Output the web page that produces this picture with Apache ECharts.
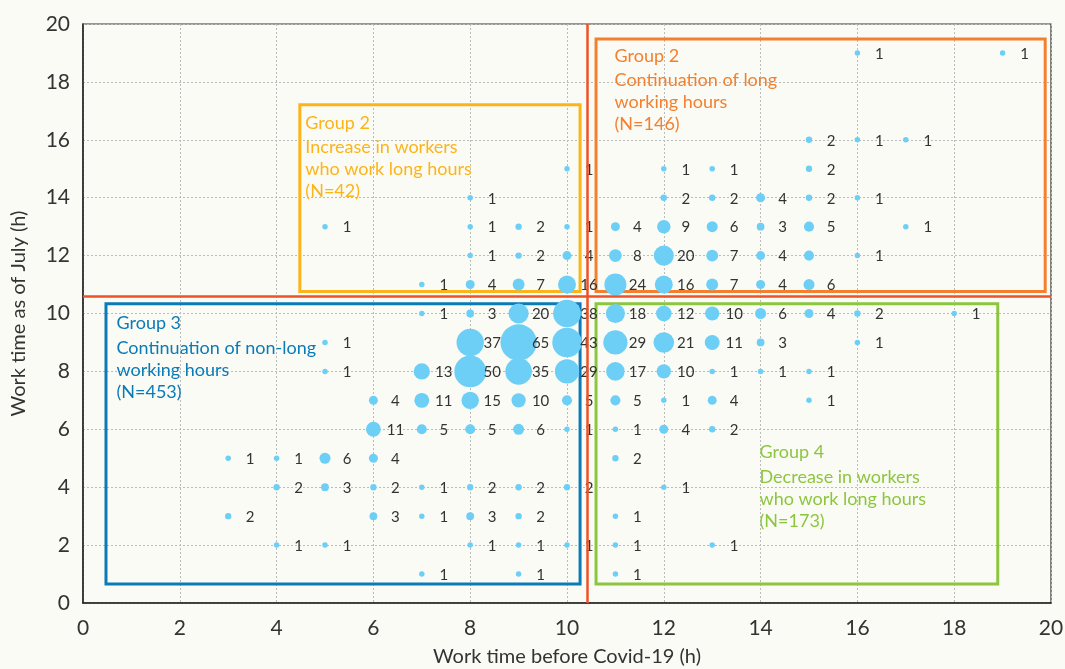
<!DOCTYPE html>
<html><head><meta charset="utf-8">
<script src="https://cdn.jsdelivr.net/npm/echarts@6/dist/echarts.min.js"></script>
<style>html,body{margin:0;padding:0;background:#fbfbf5}#c{width:1065px;height:669px}</style>
</head><body><div id="c"></div>
<script>
const xAxisName = 'Work time before Covid-19 (h)';
const yAxisName = 'Work time as of July (h)';
const axisMin = 0, axisMax = 20, axisStep = 2;

// [work time before Covid-19, work time as of July, number of workers]
const row19 = [[16,19,1],[19,19,1]];
const row16 = [[15,16,2],[16,16,1],[17,16,1]];
const row15 = [[10,15,1],[12,15,1],[13,15,1],[15,15,2]];
const row14 = [[8,14,1],[12,14,2],[13,14,2],[14,14,4],[15,14,2],[16,14,1]];
const row13 = [[5,13,1],[8,13,1],[9,13,2],[10,13,1],[11,13,4],[12,13,9],[13,13,6],[14,13,3],[15,13,5],[17,13,1]];
const row12 = [[8,12,1],[9,12,2],[10,12,4],[11,12,8],[12,12,20],[13,12,7],[14,12,4],[16,12,1]];
const row11 = [[7,11,1],[8,11,4],[9,11,7],[10,11,16],[11,11,24],[12,11,16],[13,11,7],[14,11,4],[15,11,6]];
const row10 = [[7,10,1],[8,10,3],[9,10,20],[10,10,38],[11,10,18],[12,10,12],[13,10,10],[14,10,6],[15,10,4],[16,10,2],[18,10,1]];
const row9  = [[5,9,1],[8,9,37],[9,9,65],[10,9,43],[11,9,29],[12,9,21],[13,9,11],[14,9,3],[16,9,1]];
const row8  = [[5,8,1],[7,8,13],[8,8,50],[9,8,35],[10,8,29],[11,8,17],[12,8,10],[13,8,1],[14,8,1],[15,8,1]];
const row7  = [[6,7,4],[7,7,11],[8,7,15],[9,7,10],[10,7,5],[11,7,5],[12,7,1],[13,7,4],[15,7,1]];
const row6  = [[6,6,11],[7,6,5],[8,6,5],[9,6,6],[10,6,1],[11,6,1],[12,6,4],[13,6,2]];
const row5  = [[3,5,1],[4,5,1],[5,5,6],[6,5,4],[11,5,2]];
const row4  = [[4,4,2],[5,4,3],[6,4,2],[7,4,1],[8,4,2],[9,4,2],[10,4,2],[12,4,1]];
const row3  = [[3,3,2],[6,3,3],[7,3,1],[8,3,3],[9,3,2],[11,3,1]];
const row2  = [[4,2,1],[5,2,1],[8,2,1],[9,2,1],[10,2,1],[11,2,1],[13,2,1]];
const row1  = [[7,1,1],[9,1,1],[11,1,1]];
// bubble drawn without a printed count in the original (estimated size)
const unlabeledBubbles = [[15,12,5]];

// threshold lines and group boxes (data coordinates)
const thresholdX = 10.42, thresholdY = 10.6;
const groupTitles = ['Group 2', 'Group 2', 'Group 3', 'Group 4'];
const groupTexts = [
  'Increase in workers\nwho work long hours\n(N=42)',
  'Continuation of long\nworking hours\n(N=146)',
  'Continuation of non-long\nworking hours\n(N=453)',
  'Decrease in workers\nwho work long hours\n(N=173)'
];
const groupBoxes = [
  [[4.48, 17.21], [10.27, 10.76]],
  [[10.60, 19.48], [19.88, 10.76]],
  [[0.475, 10.34], [10.27, 0.655]],
  [[10.60, 10.34], [18.9, 0.655]]
];
const groupColors = ['#fbb41a', '#f4802f', '#0a7bb8', '#8cc63f'];
const groupLabelPos = [[7, 6], [20, 5], [12, 8], [165, 137]];

const FONT = 'Lato, "Open Sans", sans-serif';
const allRows = [row19,row16,row15,row14,row13,row12,row11,row10,row9,row8,row7,row6,row5,row4,row3,row2,row1];
const points = [];
allRows.forEach(r => r.forEach(p => points.push({ value: p })));
unlabeledBubbles.forEach(p => points.push({ value: p, label: { show: false } }));

const chart = echarts.init(document.getElementById('c'), null, { renderer: 'canvas' });
chart.setOption({
  backgroundColor: '#fbfbf5',
  animation: false,
  textStyle: { fontFamily: FONT },
  grid: { left: 83, right: 14, top: 24, bottom: 66, show: true, borderColor: '#333', borderWidth: 1.2, containLabel: false, outerBoundsMode: 'none' },
  xAxis: {
    type: 'value', min: axisMin, max: axisMax, interval: axisStep,
    name: xAxisName, nameLocation: 'middle', nameGap: 44,
    nameTextStyle: { fontSize: 20, color: '#333', fontFamily: FONT },
    axisLine: { show: true, lineStyle: { color: '#222', width: 1.5 } },
    axisTick: { show: false },
    axisLabel: { fontSize: 21, color: '#333', margin: 15, fontFamily: FONT },
    splitLine: { show: true, lineStyle: { color: '#bbb', type: [2, 2], width: 1 } }
  },
  yAxis: {
    type: 'value', min: axisMin, max: axisMax, interval: axisStep,
    name: yAxisName, nameLocation: 'middle', nameGap: 54,
    nameTextStyle: { fontSize: 20, color: '#333', fontFamily: FONT },
    axisLine: { show: true, lineStyle: { color: '#222', width: 1.5 } },
    axisTick: { show: false },
    axisLabel: { fontSize: 21, color: '#333', margin: 13, fontFamily: FONT },
    splitLine: { show: true, lineStyle: { color: '#bbb', type: [2, 2], width: 1 } }
  },
  series: [
    {
      type: 'scatter',
      z: 2,
      data: [],
      silent: true,
      markArea: {
        silent: true,
        data: groupBoxes.map((b, i) => [
          {
            coord: b[0],
            itemStyle: { color: 'rgba(0,0,0,0)', borderColor: groupColors[i], borderWidth: 3 },
            label: {
              show: true, position: groupLabelPos[i],
              formatter: '{t|' + groupTitles[i] + '}\n' + groupTexts[i].split('\n').map(s => '{b|' + s + '}').join('\n'),
              rich: {
                t: { fontSize: 18, lineHeight: 27, color: groupColors[i], fontFamily: FONT },
                b: { fontSize: 18, lineHeight: 22, color: groupColors[i], fontFamily: FONT }
              }
            }
          },
          { coord: b[1] }
        ])
      },
      markLine: {
        silent: true, symbol: 'none',
        label: { show: false },
        lineStyle: { color: '#ee5229', width: 2.5, type: 'solid' },
        data: [{ xAxis: thresholdX }, { yAxis: thresholdY }]
      }
    },
    {
      type: 'scatter',
      z: 3,
      data: points,
      symbolSize: v => Math.max(5.5, 4.5 * Math.sqrt(v[2])),
      itemStyle: { color: '#6dcff6', opacity: 1 },
      label: {
        show: true, position: 'inside', align: 'center', verticalAlign: 'middle',
        color: '#333', fontSize: 15, fontFamily: FONT,
        formatter: p => String(p.value[2])
      },
      labelLayout: { dx: 22, dy: 1, hideOverlap: false }
    }
  ]
});
</script></body></html>
